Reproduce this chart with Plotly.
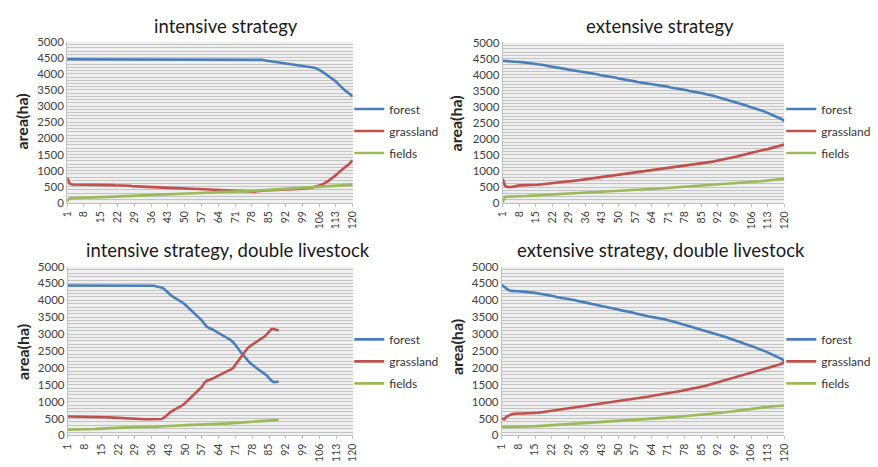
import plotly.graph_objects as go

W, H = 878, 467

steps = list(range(1, 121))
tick_vals = [1, 8, 15, 22, 29, 36, 43, 50, 57, 64, 71, 78, 85, 92, 99, 106, 113, 120]
tick_text = [str(v) for v in tick_vals]
y_ticks = [0, 500, 1000, 1500, 2000, 2500, 3000, 3500, 4000, 4500, 5000]

titles = ["intensive strategy", "extensive strategy",
          "intensive strategy, double livestock", "extensive strategy, double livestock"]
series_names = ["forest", "grassland", "fields"]
y_title = "area(ha)"

# ---- panel 1: intensive strategy ----
p1_forest = [
    4450, 4450, 4450, 4450, 4450, 4450, 4450, 4450, 4450, 4450,
    4450, 4450, 4450, 4450, 4450, 4450, 4450, 4450, 4450, 4450,
    4450, 4450, 4450, 4450, 4450, 4450, 4450, 4450, 4450, 4450,
    4450, 4450, 4450, 4450, 4450, 4450, 4450, 4450, 4450, 4450,
    4450, 4450, 4450, 4450, 4450, 4450, 4450, 4450, 4450, 4450,
    4450, 4450, 4450, 4450, 4450, 4450, 4450, 4450, 4450, 4450,
    4450, 4450, 4450, 4450, 4450, 4450, 4450, 4450, 4450, 4450,
    4450, 4450, 4450, 4450, 4450, 4450, 4450, 4450, 4450, 4450,
    4440, 4430, 4420, 4410, 4400, 4390, 4380, 4370, 4360, 4350,
    4340, 4320, 4310, 4300, 4290, 4280, 4270, 4260, 4260, 4250,
    4240, 4230, 4210, 4190, 4160, 4130, 4080, 4030, 3980, 3920,
    3870, 3820, 3760, 3680, 3600, 3530, 3470, 3420, 3360, 3300]
p1_grassland = [
    780, 600, 570, 570, 570, 570, 570, 570, 570, 570,
    570, 570, 565, 565, 560, 560, 560, 555, 550, 550,
    545, 545, 540, 540, 540, 535, 530, 520, 515, 510,
    510, 505, 505, 500, 500, 500, 495, 490, 480, 475,
    470, 470, 465, 465, 460, 455, 450, 450, 445, 440,
    440, 440, 435, 435, 430, 430, 425, 420, 415, 410,
    405, 400, 400, 400, 395, 395, 390, 385, 380, 380,
    375, 375, 370, 370, 365, 360, 355, 350, 350, 360,
    370, 380, 385, 390, 390, 395, 400, 405, 410, 415,
    420, 420, 425, 430, 430, 430, 430, 430, 435, 440,
    450, 460, 470, 490, 510, 530, 560, 600, 640, 690,
    750, 800, 860, 930, 1000, 1060, 1120, 1170, 1240, 1320]
p1_fields = [
    50, 140, 145, 150, 150, 155, 155, 160, 160, 165,
    165, 170, 170, 175, 180, 185, 185, 190, 190, 195,
    195, 200, 200, 205, 210, 210, 215, 220, 220, 225,
    225, 230, 235, 235, 240, 245, 245, 250, 255, 255,
    260, 260, 265, 270, 270, 275, 280, 280, 285, 290,
    290, 295, 300, 300, 305, 310, 310, 315, 320, 320,
    325, 330, 330, 335, 335, 340, 340, 345, 345, 350,
    350, 355, 355, 360, 360, 365, 365, 370, 370, 375,
    375, 380, 380, 385, 390, 395, 400, 405, 410, 415,
    420, 425, 430, 435, 440, 445, 450, 455, 460, 465,
    470, 475, 480, 485, 490, 495, 500, 505, 510, 515,
    520, 525, 530, 535, 540, 545, 550, 555, 560, 565]

# ---- panel 2: extensive strategy ----
p2_forest = [
    4430, 4420, 4410, 4410, 4400, 4400, 4400, 4400, 4390, 4380,
    4370, 4360, 4360, 4350, 4350, 4340, 4320, 4300, 4290, 4270,
    4260, 4250, 4240, 4220, 4210, 4200, 4180, 4170, 4150, 4140,
    4130, 4120, 4110, 4100, 4090, 4080, 4060, 4050, 4040, 4020,
    4010, 3990, 3980, 3960, 3950, 3940, 3930, 3910, 3900, 3880,
    3870, 3860, 3840, 3830, 3820, 3800, 3790, 3770, 3760, 3740,
    3730, 3710, 3700, 3690, 3680, 3670, 3660, 3650, 3640, 3630,
    3620, 3600, 3590, 3580, 3560, 3550, 3540, 3520, 3510, 3490,
    3480, 3470, 3450, 3440, 3420, 3410, 3390, 3380, 3360, 3340,
    3320, 3300, 3280, 3260, 3240, 3220, 3200, 3180, 3150, 3130,
    3110, 3080, 3060, 3040, 3010, 2990, 2970, 2950, 2920, 2900,
    2870, 2840, 2810, 2780, 2750, 2720, 2680, 2650, 2610, 2560]
p2_grassland = [
    750, 540, 500, 490, 500, 520, 540, 550, 550, 550,
    550, 550, 550, 550, 560, 570, 580, 590, 600, 610,
    615, 620, 630, 640, 645, 650, 660, 670, 675, 680,
    690, 700, 710, 720, 730, 740, 750, 760, 770, 780,
    790, 800, 810, 820, 830, 840, 850, 860, 870, 880,
    890, 900, 910, 920, 930, 940, 950, 960, 970, 980,
    990, 1000, 1010, 1020, 1030, 1040, 1045, 1050, 1060, 1070,
    1080, 1090, 1100, 1110, 1120, 1130, 1140, 1150, 1160, 1170,
    1180, 1200, 1210, 1220, 1230, 1240, 1250, 1260, 1280, 1290,
    1310, 1320, 1340, 1350, 1370, 1390, 1400, 1420, 1440, 1450,
    1470, 1490, 1510, 1520, 1540, 1560, 1580, 1590, 1610, 1630,
    1650, 1670, 1680, 1700, 1720, 1740, 1760, 1780, 1800, 1820]
p2_fields = [
    30, 190, 200, 200, 205, 205, 210, 210, 215, 220,
    220, 225, 230, 235, 240, 240, 245, 250, 250, 255,
    260, 265, 270, 270, 275, 280, 285, 290, 295, 300,
    305, 310, 315, 320, 320, 325, 330, 335, 335, 340,
    345, 345, 350, 350, 355, 360, 365, 370, 375, 380,
    385, 390, 395, 400, 400, 405, 410, 415, 420, 425,
    430, 430, 435, 440, 445, 445, 450, 455, 455, 460,
    465, 470, 475, 480, 485, 490, 495, 500, 505, 510,
    515, 520, 525, 530, 535, 540, 545, 550, 555, 560,
    565, 570, 575, 580, 590, 595, 600, 610, 615, 620,
    630, 635, 640, 645, 650, 655, 660, 670, 675, 680,
    690, 695, 700, 710, 715, 725, 730, 740, 750, 760]

# ---- panel 3: intensive strategy, double livestock (89 steps) ----
p3_forest = [
    4440, 4440, 4440, 4440, 4440, 4440, 4440, 4440, 4440, 4440,
    4440, 4440, 4440, 4440, 4440, 4440, 4440, 4440, 4440, 4440,
    4440, 4440, 4440, 4440, 4440, 4440, 4440, 4440, 4440, 4440,
    4440, 4440, 4440, 4440, 4440, 4440, 4430, 4410, 4400, 4380,
    4350, 4280, 4200, 4150, 4100, 4060, 4020, 3980, 3930, 3870,
    3800, 3730, 3660, 3600, 3540, 3480, 3400, 3300, 3220, 3180,
    3160, 3120, 3070, 3030, 3000, 2960, 2920, 2870, 2820, 2760,
    2680, 2580, 2480, 2390, 2300, 2220, 2150, 2090, 2030, 1980,
    1930, 1880, 1840, 1780, 1700, 1620, 1580, 1580, 1590]
p3_grassland = [
    560, 560, 560, 560, 560, 560, 560, 555, 550, 545,
    540, 540, 540, 540, 540, 540, 540, 535, 530, 525,
    520, 515, 510, 510, 510, 505, 500, 495, 490, 485,
    480, 480, 480, 480, 480, 480, 480, 480, 480, 485,
    520, 580, 650, 700, 740, 780, 810, 850, 900, 960,
    1030, 1100, 1160, 1220, 1280, 1350, 1440, 1560, 1620, 1640,
    1660, 1700, 1740, 1780, 1800, 1840, 1880, 1920, 1950, 2000,
    2100, 2200, 2300, 2400, 2500, 2580, 2640, 2690, 2750, 2800,
    2850, 2880, 2920, 3000, 3080, 3150, 3150, 3130, 3110]
p3_fields = [
    170, 170, 170, 170, 175, 175, 180, 180, 185, 185,
    190, 190, 195, 200, 205, 205, 210, 210, 215, 220,
    225, 230, 230, 235, 235, 240, 240, 240, 245, 245,
    250, 250, 250, 250, 255, 255, 255, 260, 265, 270,
    275, 280, 280, 285, 290, 295, 300, 300, 305, 305,
    310, 310, 315, 315, 320, 320, 325, 330, 330, 335,
    335, 340, 340, 345, 345, 350, 350, 355, 355, 360,
    365, 370, 375, 380, 385, 385, 390, 395, 400, 405,
    410, 410, 415, 420, 425, 430, 440, 450, 460]

# ---- panel 4: extensive strategy, double livestock ----
p4_forest = [
    4450, 4400, 4350, 4300, 4280, 4270, 4270, 4270, 4265, 4260,
    4260, 4255, 4250, 4240, 4220, 4210, 4200, 4180, 4170, 4160,
    4140, 4130, 4120, 4100, 4090, 4080, 4060, 4050, 4040, 4020,
    4010, 4000, 3980, 3970, 3950, 3940, 3920, 3910, 3890, 3880,
    3860, 3850, 3830, 3820, 3800, 3790, 3770, 3760, 3740, 3730,
    3710, 3700, 3680, 3670, 3650, 3640, 3620, 3600, 3590, 3570,
    3550, 3540, 3520, 3510, 3500, 3490, 3470, 3460, 3440, 3430,
    3410, 3400, 3380, 3360, 3340, 3320, 3300, 3280, 3260, 3240,
    3220, 3200, 3180, 3160, 3140, 3120, 3100, 3080, 3060, 3040,
    3010, 2990, 2970, 2950, 2920, 2900, 2870, 2850, 2820, 2800,
    2770, 2750, 2720, 2700, 2670, 2650, 2620, 2600, 2570, 2550,
    2520, 2490, 2460, 2430, 2400, 2370, 2340, 2300, 2260, 2200]
p4_grassland = [
    500, 480, 560, 600, 620, 640, 650, 650, 650, 650,
    650, 650, 655, 660, 665, 670, 680, 690, 700, 710,
    715, 720, 730, 740, 750, 760, 770, 780, 790, 800,
    810, 820, 830, 840, 850, 860, 870, 880, 890, 900,
    910, 920, 930, 940, 950, 960, 970, 980, 990, 1000,
    1010, 1020, 1030, 1040, 1050, 1060, 1070, 1080, 1090, 1100,
    1110, 1130, 1150, 1170, 1180, 1190, 1200, 1210, 1220, 1230,
    1240, 1250, 1260, 1280, 1290, 1300, 1320, 1340, 1360, 1370,
    1390, 1400, 1410, 1420, 1440, 1450, 1470, 1490, 1510, 1530,
    1550, 1570, 1590, 1610, 1630, 1650, 1670, 1690, 1710, 1730,
    1750, 1770, 1790, 1810, 1830, 1850, 1870, 1890, 1910, 1930,
    1950, 1970, 1990, 2010, 2030, 2050, 2080, 2100, 2130, 2160]
p4_fields = [
    250, 250, 250, 250, 250, 250, 250, 250, 250, 250,
    250, 255, 260, 265, 270, 275, 280, 285, 290, 295,
    300, 305, 305, 310, 315, 320, 325, 330, 330, 335,
    340, 345, 350, 350, 355, 360, 365, 370, 370, 375,
    380, 385, 390, 395, 400, 405, 410, 415, 420, 425,
    430, 435, 440, 445, 450, 455, 460, 465, 470, 475,
    480, 485, 490, 495, 500, 505, 510, 515, 520, 525,
    530, 535, 540, 545, 550, 555, 560, 565, 570, 575,
    580, 585, 590, 600, 610, 615, 620, 630, 640, 650,
    655, 660, 670, 680, 690, 695, 700, 710, 720, 730,
    740, 750, 760, 770, 780, 790, 800, 810, 820, 830,
    840, 845, 850, 855, 860, 865, 870, 875, 880, 885]

panels = [
    (p1_forest, p1_grassland, p1_fields),
    (p2_forest, p2_grassland, p2_fields),
    (p3_forest, p3_grassland, p3_fields),
    (p4_forest, p4_grassland, p4_fields),
]

colors = ["#4A7EBB", "#C0504D", "#9BBB59"]


def px(x):
    return x / W


def py(y):
    return 1 - y / H


# plot areas in pixels: (left, right, top, bottom)
boxes = [
    (61, 350.5, 35.5, 201.5),
    (502.5, 788, 36.5, 201.7),
    (61.7, 350.7, 267, 440.7),
    (501.7, 788, 267, 440.7),
]
title_pos = [(222, 20), (662, 20), (224, 250), (663, 250)]
ylab_pos = [(15, 118), (455, 120), (15, 355), (455, 350)]
legend_pos = [(347, 90), (785, 90), (347, 327), (785, 327)]

fig = go.Figure()
layout = dict(
    width=W, height=H,
    margin=dict(l=0, r=0, t=0, b=0),
    paper_bgcolor="white",
    plot_bgcolor="#EFEFEF",
    font=dict(family="Lato, Open Sans, sans-serif", color="#333333"),
    annotations=[],
)

for k, vals in enumerate(panels):
    xa = "x" if k == 0 else f"x{k+1}"
    ya = "y" if k == 0 else f"y{k+1}"
    lg = "legend" if k == 0 else f"legend{k+1}"
    for s, (name, series) in enumerate(zip(series_names, vals)):
        fig.add_trace(go.Scatter(
            x=steps[:len(series)], y=series, name=name, mode="lines",
            line=dict(color=colors[s], width=2.6),
            xaxis=xa, yaxis=ya, legend=lg, legendgroup=f"g{k}{s}",
        ))
    l, r, t, b = boxes[k]
    xkey = "xaxis" if k == 0 else f"xaxis{k+1}"
    ykey = "yaxis" if k == 0 else f"yaxis{k+1}"
    layout[xkey] = dict(
        domain=[px(l), px(r)], anchor=ya, range=[1, 120],
        tickmode="array", tickvals=tick_vals, ticktext=tick_text,
        tickangle=-90, tickfont=dict(size=10.5, color="#404040"),
        showgrid=False, zeroline=False, showline=True, linecolor="#BFBFBF",
        ticks="outside", ticklen=3, tickcolor="#BFBFBF",
    )
    layout[ykey] = dict(
        domain=[py(b), py(t)], anchor=xa, range=[0, 5000],
        tickmode="array", tickvals=y_ticks,
        tickfont=dict(size=11.5, color="#404040"),
        showgrid=True, gridcolor="#C4C4C4", gridwidth=1,
        minor=dict(dtick=100, showgrid=True, gridcolor="#C4C4C4", gridwidth=1),
        zeroline=False, showline=True, linecolor="#BFBFBF",
    )
    lx, ly = legend_pos[k]
    layout[lg] = dict(
        x=px(lx), y=py(ly), xanchor="left", yanchor="top",
        bgcolor="rgba(0,0,0,0)", tracegroupgap=3,
        font=dict(size=12, color="#333333", family="Lato, sans-serif"),
    )
    tx, ty = title_pos[k]
    layout["annotations"].append(dict(
        text=titles[k], x=px(tx), y=py(ty), xref="paper", yref="paper",
        showarrow=False, xanchor="center", yanchor="middle",
        font=dict(size=18.5, color="#1a1a1a"),
    ))
    ax_, ay_ = ylab_pos[k]
    layout["annotations"].append(dict(
        text="<b>" + y_title + "</b>", x=px(ax_), y=py(ay_), xref="paper", yref="paper",
        showarrow=False, xanchor="center", yanchor="middle", textangle=-90,
        font=dict(size=16, color="#262626"),
    ))

fig.update_layout(**layout)
fig.write_html("out.html", config={"displayModeBar": False},
               post_script="document.body.style.margin='0';")
